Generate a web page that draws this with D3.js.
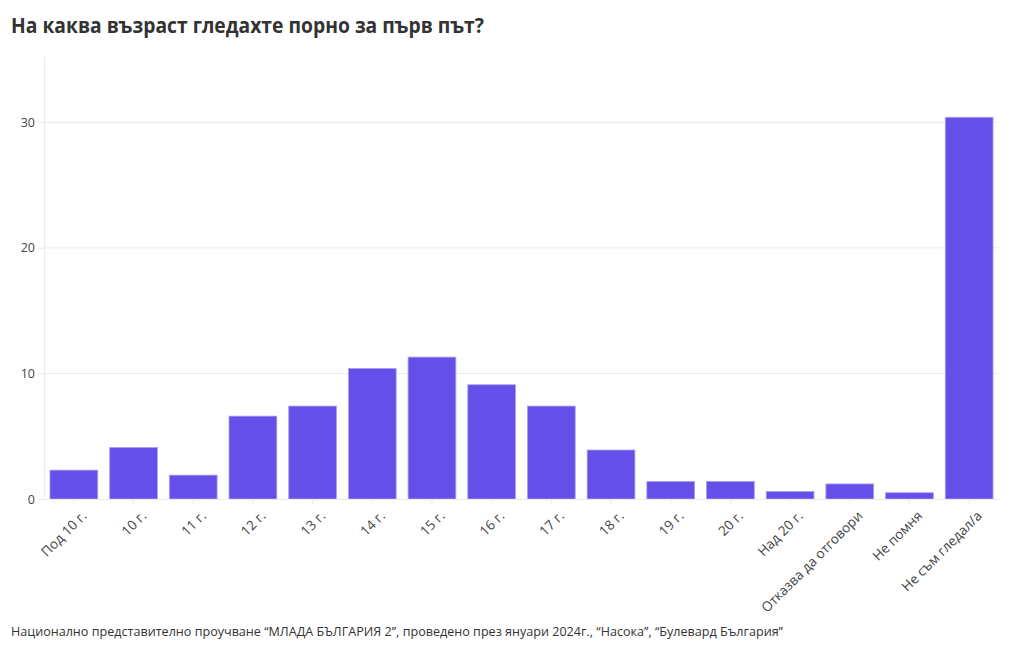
<!DOCTYPE html>
<html><head><meta charset="utf-8">
<script src="https://cdn.jsdelivr.net/npm/d3@7"></script>
<style>body{margin:0;background:#fff;} text{font-family:"Open Sans",sans-serif;}</style>
</head><body>
<svg id="c" width="1020" height="650"></svg>
<script>
const categories = ["Под 10 г.","10 г.","11 г.","12 г.","13 г.","14 г.","15 г.","16 г.","17 г.","18 г.","19 г.","20 г.","Над 20 г.","Отказва да отговори","Не помня","Не съм гледал/а"];
const values = [2.3,4.1,1.9,6.6,7.4,10.4,11.3,9.1,7.4,3.9,1.4,1.4,0.6,1.2,0.5,30.4];
const yTicks = [0,10,20,30];
const title = "На каква възраст гледахте порно за първ път?";
const source = "Национално представително проучване “МЛАДА БЪЛГАРИЯ 2”, проведено през януари 2024г., “Насока”, “Булевард България”";

const svg = d3.select("#c");
const m = {l:44, r:1020-999, t:57, b:650-499};
const W = 1020, H = 650;
const x = d3.scaleBand().domain(categories).range([m.l, W-m.r]).paddingInner(0.2).paddingOuter(0.1);
const y = d3.scaleLinear().domain([0,35.2]).range([H-m.b, m.t]);

// grid
svg.append("g").selectAll("line").data(yTicks.filter(d=>d>0)).join("line")
  .attr("x1",m.l).attr("x2",W-m.r).attr("y1",d=>y(d)).attr("y2",d=>y(d))
  .attr("stroke","#ebebeb").attr("stroke-width",1);
// left axis line
svg.append("line").attr("x1",m.l+0.5).attr("x2",m.l+0.5).attr("y1",m.t).attr("y2",y(0))
  .attr("stroke","#ebebeb");

// y axis
const ya = svg.append("g").attr("transform",`translate(${m.l},0)`)
  .call(d3.axisLeft(y).tickValues(yTicks).tickSize(6).tickPadding(3));
ya.select(".domain").remove();
ya.selectAll(".tick line").attr("stroke","#ebebeb");
ya.selectAll("text").attr("fill","#444").style("font-size","12.5px");

// bars
svg.append("g").selectAll("rect").data(values).join("rect")
  .attr("x",(d,i)=>x(categories[i])).attr("width",x.bandwidth())
  .attr("y",d=>y(d)).attr("height",d=>y(0)-y(d))
  .attr("fill","#6450e8").attr("stroke","#a99ff2").attr("stroke-width",0.8);

// baseline
svg.append("line").attr("x1",m.l).attr("x2",W-m.r).attr("y1",y(0)+0.5).attr("y2",y(0)+0.5).attr("stroke","#ebebeb");

// x axis
const xa = svg.append("g").attr("transform",`translate(0,${y(0)})`)
  .call(d3.axisBottom(x).tickSize(5).tickPadding(4));
xa.select(".domain").remove();
xa.selectAll(".tick line").attr("stroke","#ebebeb");
xa.selectAll("text").attr("fill","#444").style("font-size","13.5px")
  .attr("text-anchor","end").attr("dy","0.35em")
  .attr("transform","translate(4,8) rotate(-45)");

svg.append("text").attr("x",11).attr("y",33).text(title)
  .style("font-size","20.5px").style("font-weight","700").attr("fill","#333")
  .attr("textLength",473).attr("lengthAdjust","spacingAndGlyphs");
svg.append("text").attr("x",11).attr("y",636).text(source)
  .style("font-size","13px").attr("fill","#333")
  .attr("textLength",772).attr("lengthAdjust","spacingAndGlyphs");
</script>
</body></html>
